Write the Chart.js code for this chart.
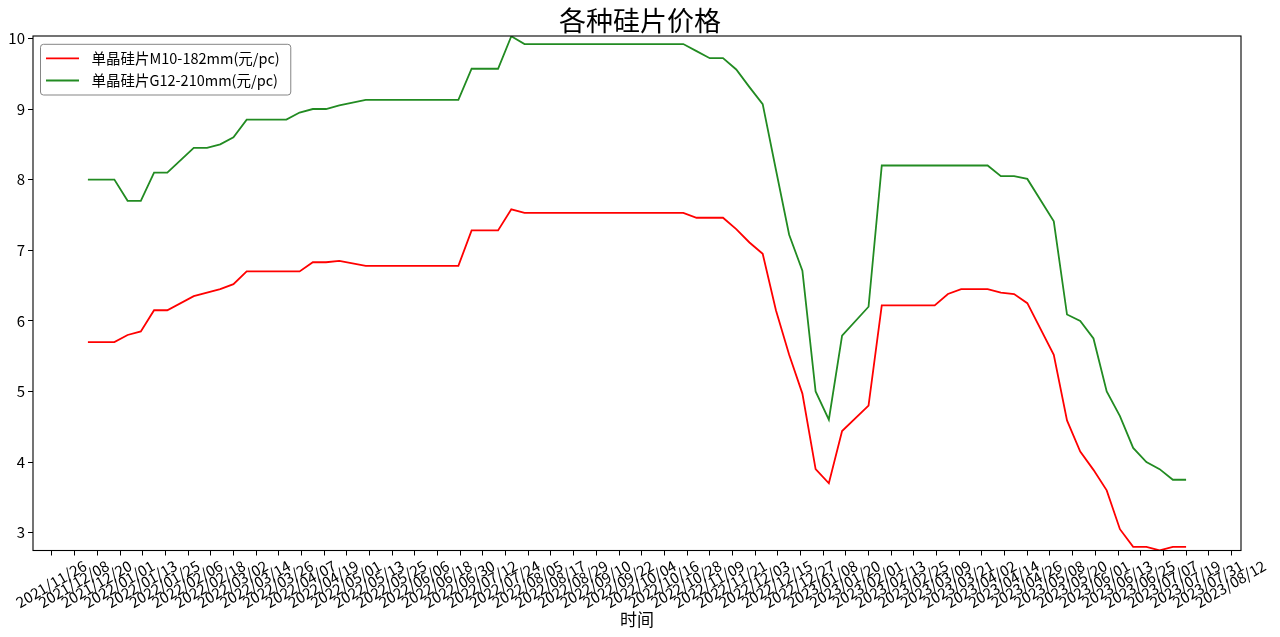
<!DOCTYPE html>
<html>
<head>
<meta charset="utf-8">
<script src="https://cdn.jsdelivr.net/npm/chart.js@4.4.0/dist/chart.umd.min.js"></script>
<style>
  html, body { margin: 0; padding: 0; background: #ffffff; }
  #wrap { width: 1280px; height: 637px; }
  canvas { display: block; }
</style>
</head>
<body>
<div id="wrap"><canvas id="c" width="1280" height="637" style="width:1280px;height:637px"></canvas></div>
<script>
const chartTitle = '各种硅片价格';
const xAxisTitle = '时间';
const seriesNames = ['单晶硅片M10-182mm(元/pc)', '单晶硅片G12-210mm(元/pc)'];
const seriesColors = ['#ff0000', '#228b22'];

const dates = [
  "2021-12-15","2021-12-22","2021-12-29","2022-01-05","2022-01-12","2022-01-19","2022-01-26",
  "2022-02-09","2022-02-16","2022-02-23","2022-03-02","2022-03-09","2022-03-16","2022-03-23","2022-03-30",
  "2022-04-06","2022-04-13","2022-04-20","2022-04-27",
  "2022-05-11","2022-05-18","2022-05-25","2022-06-01","2022-06-08","2022-06-15","2022-06-22","2022-06-29",
  "2022-07-06","2022-07-13","2022-07-20","2022-07-27",
  "2022-08-03","2022-08-10","2022-08-17","2022-08-24","2022-08-31","2022-09-07","2022-09-14","2022-09-21","2022-09-28","2022-10-05","2022-10-12","2022-10-19","2022-10-26",
  "2022-11-02","2022-11-09","2022-11-16","2022-11-23","2022-11-30",
  "2022-12-07","2022-12-14","2022-12-21","2022-12-28",
  "2023-01-04","2023-01-11","2023-01-18",
  "2023-02-01","2023-02-08","2023-02-15","2023-02-22","2023-03-01","2023-03-08","2023-03-15","2023-03-22","2023-03-29",
  "2023-04-05","2023-04-12","2023-04-19","2023-04-26",
  "2023-05-10","2023-05-17","2023-05-24","2023-05-31",
  "2023-06-07","2023-06-14","2023-06-21","2023-06-28",
  "2023-07-05","2023-07-12","2023-07-19"
];

const m10Price = [
  5.70,5.70,5.70,5.80,5.85,6.15,6.15,
  6.35,6.40,6.45,6.52,6.70,6.70,6.70,6.70,
  6.70,6.83,6.83,6.85,
  6.78,6.78,6.78,6.78,6.78,6.78,6.78,6.78,
  7.28,7.28,7.28,7.58,
  7.53,7.53,7.53,7.53,7.53,7.53,7.53,7.53,7.53,7.53,7.53,7.53,7.53,
  7.46,7.46,7.46,7.30,7.11,
  6.95,6.15,5.52,4.97,
  3.90,3.70,4.44,
  4.80,6.22,6.22,6.22,6.22,6.22,6.38,6.45,6.45,
  6.45,6.40,6.38,6.25,
  5.52,4.59,4.15,3.89,
  3.60,3.05,2.80,2.80,
  2.75,2.80,2.80
];

const g12Price = [
  8.00,8.00,8.00,7.70,7.70,8.10,8.10,
  8.45,8.45,8.50,8.60,8.85,8.85,8.85,8.85,
  8.95,9.00,9.00,9.05,
  9.13,9.13,9.13,9.13,9.13,9.13,9.13,9.13,
  9.57,9.57,9.57,10.03,
  9.92,9.92,9.92,9.92,9.92,9.92,9.92,9.92,9.92,9.92,9.92,9.92,9.92,
  9.82,9.72,9.72,9.56,9.31,
  9.07,8.14,7.22,6.71,
  5.00,4.60,5.79,
  6.20,8.20,8.20,8.20,8.20,8.20,8.20,8.20,8.20,
  8.20,8.05,8.05,8.01,
  7.41,6.09,6.00,5.75,
  5.00,4.65,4.20,4.00,
  3.90,3.75,3.75
];

const xTickLabels = [
  "2021/11/26","2021/12/08","2021/12/20",
  "2022/01/01","2022/01/13","2022/01/25","2022/02/06","2022/02/18","2022/03/02","2022/03/14","2022/03/26",
  "2022/04/07","2022/04/19","2022/05/01","2022/05/13","2022/05/25","2022/06/06","2022/06/18","2022/06/30",
  "2022/07/12","2022/07/24","2022/08/05","2022/08/17","2022/08/29","2022/09/10","2022/09/22","2022/10/04",
  "2022/10/16","2022/10/28","2022/11/09","2022/11/21","2022/12/03","2022/12/15","2022/12/27",
  "2023/01/08","2023/01/20","2023/02/01","2023/02/13","2023/02/25","2023/03/09","2023/03/21","2023/04/02",
  "2023/04/14","2023/04/26","2023/05/08","2023/05/20","2023/06/01","2023/06/13","2023/06/25","2023/07/07",
  "2023/07/19","2023/07/31","2023/08/12"
];

const yTicks = [3, 4, 5, 6, 7, 8, 9, 10];
const yMin = 2.748;
const yMax = 10.034;

// ---------- helpers ----------
const DAY_MS = 86400000;
function dayOf(s) {
  const p = s.split(/[-\/]/).map(Number);
  return Date.UTC(p[0], p[1] - 1, p[2]) / DAY_MS;
}
const xDays = dates.map(dayOf);
const xFirst = xDays[0];
const xLast = xDays[xDays.length - 1];
const xPad = (xLast - xFirst) * 0.05;

const FONT = "'Noto Sans CJK SC', 'DejaVu Sans', sans-serif";
Chart.defaults.font.family = FONT;
Chart.defaults.color = '#000';

const framePlugin = {
  id: 'frameAndLegend',
  afterDatasetsDraw(chart) {
    const { ctx, chartArea: a } = chart;
    ctx.save();
    ctx.strokeStyle = '#000';
    ctx.lineWidth = 1.1;
    ctx.strokeRect(a.left, a.top, a.right - a.left, a.bottom - a.top);
    ctx.restore();
  },
  afterDraw(chart) {
    const { ctx, chartArea: a } = chart;
    const ds = chart.data.datasets;
    ctx.save();
    ctx.font = "14.5px " + FONT;
    const tw = Math.max(...ds.map(d => ctx.measureText(d.label).width));
    const bx = a.left + 7.5, by = a.top + 8.3;
    const bw = 51 + tw + 11, bh = 50.7, r = 3;
    ctx.beginPath();
    ctx.moveTo(bx + r, by);
    ctx.lineTo(bx + bw - r, by);
    ctx.arcTo(bx + bw, by, bx + bw, by + r, r);
    ctx.lineTo(bx + bw, by + bh - r);
    ctx.arcTo(bx + bw, by + bh, bx + bw - r, by + bh, r);
    ctx.lineTo(bx + r, by + bh);
    ctx.arcTo(bx, by + bh, bx, by + bh - r, r);
    ctx.lineTo(bx, by + r);
    ctx.arcTo(bx, by, bx + r, by, r);
    ctx.closePath();
    ctx.fillStyle = 'rgba(255,255,255,0.8)';
    ctx.fill();
    ctx.strokeStyle = '#858585';
    ctx.lineWidth = 1;
    ctx.stroke();
    ds.forEach((d, i) => {
      const y = by + 14 + i * 22.2;
      ctx.beginPath();
      ctx.moveTo(bx + 5.5, y);
      ctx.lineTo(bx + 38.5, y);
      ctx.strokeStyle = d.borderColor;
      ctx.lineWidth = 1.8;
      ctx.stroke();
      ctx.fillStyle = '#000';
      ctx.textBaseline = 'middle';
      ctx.textAlign = 'left';
      ctx.fillText(d.label, bx + 51, y);
    });
    ctx.restore();
  }
};

const series = [m10Price, g12Price];

new Chart(document.getElementById('c'), {
  type: 'line',
  data: {
    datasets: series.map((vals, k) => ({
      label: seriesNames[k],
      data: xDays.map((x, i) => ({ x: x, y: vals[i] })),
      borderColor: seriesColors[k],
      backgroundColor: seriesColors[k],
      borderWidth: 1.8,
      pointRadius: 0,
      pointHoverRadius: 0,
      tension: 0,
      fill: false
    }))
  },
  options: {
    responsive: false,
    animation: false,
    devicePixelRatio: 1,
    layout: { padding: { left: 0, right: 0, top: 0, bottom: 0 } },
    plugins: {
      legend: { display: false },
      tooltip: { enabled: false },
      title: {
        display: true,
        text: chartTitle,
        color: '#000',
        font: { size: 27, weight: 'normal', lineHeight: 1.0 },
        padding: { top: 7, bottom: 2 }
      }
    },
    scales: {
      x: {
        type: 'linear',
        min: xFirst - xPad,
        max: xLast + xPad,
        afterBuildTicks: s => { s.ticks = xTickLabels.map(l => ({ value: dayOf(l) })); },
        afterFit: s => { s.height = 86.5; s.paddingLeft = 0; s.paddingRight = 0; },
        ticks: {
          autoSkip: false,
          minRotation: 30,
          maxRotation: 30,
          labelOffset: 33,
          padding: 1,
          color: '#000',
          font: { size: 15 },
          callback: (v, i) => xTickLabels[i]
        },
        grid: { display: true, drawOnChartArea: false, drawTicks: true, tickLength: 5, tickColor: '#000', tickWidth: 1 },
        border: { display: false },
        title: { display: true, text: xAxisTitle, color: '#000', font: { size: 17 }, padding: { top: 0, bottom: 7 } }
      },
      y: {
        type: 'linear',
        position: 'left',
        min: yMin,
        max: yMax,
        afterBuildTicks: s => { s.ticks = yTicks.map(v => ({ value: v })); },
        afterFit: s => { s.width = 33; s.paddingTop = 0; s.paddingBottom = 0; },
        ticks: { color: '#000', font: { size: 15 }, padding: 3, callback: v => String(v) },
        grid: { display: true, drawOnChartArea: false, drawTicks: true, tickLength: 5, tickColor: '#000', tickWidth: 1 },
        border: { display: false }
      },
      yRight: {
        type: 'linear',
        position: 'right',
        display: true,
        min: 0,
        max: 1,
        afterFit: s => { s.width = 39; s.paddingTop = 0; s.paddingBottom = 0; },
        ticks: { display: false },
        grid: { display: false, drawTicks: false },
        border: { display: false }
      }
    }
  },
  plugins: [framePlugin]
});
</script>
</body>
</html>
